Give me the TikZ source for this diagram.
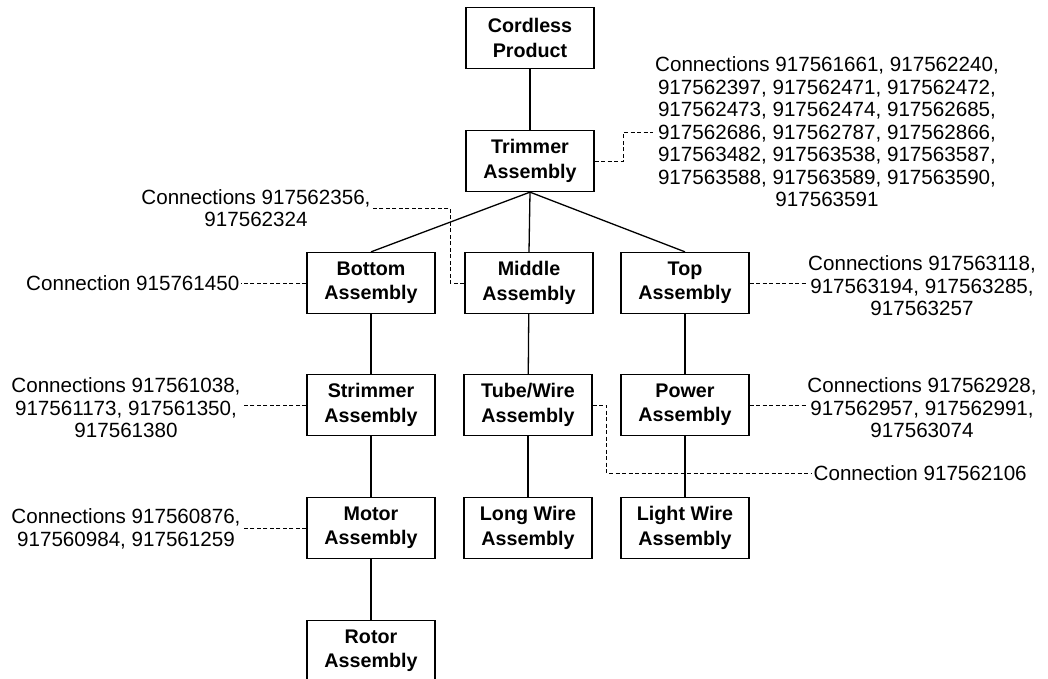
\documentclass[tikz,border=0pt]{standalone}
\usepackage{fontspec}
\setmainfont{Liberation Sans}
\usetikzlibrary{calc,positioning}

\begin{document}
\begin{tikzpicture}[x=1pt,y=-1pt,
  asm/.style={draw, line width=1.3pt, minimum width=128pt, minimum height=61pt, inner sep=0pt, align=center, font=\fontsize{19.7}{24.5}\selectfont\bfseries},
  note/.style={align=center, inner sep=1.5pt, font=\fontsize{20.6}{22.5}\selectfont},
  tree/.style={line width=1.3pt},
  conn/.style={line width=0.9pt, dash pattern=on 4pt off 2.5pt}]
\clip (0,0) rectangle (1048,678);

\node[asm] (cordless) at (530,38) {Cordless\\Product};
\node[asm] (trimmer) at (530,161) {Trimmer\\Assembly};
\node[asm] (bottom) at (371,283) {Bottom\\Assembly};
\node[asm] (middle) at (529,283) {Middle\\Assembly};
\node[asm] (top) at (685,283) {Top\\Assembly};
\node[asm] (strimmer) at (371,405) {Strimmer\\Assembly};
\node[asm] (tube) at (528,405) {Tube/Wire\\Assembly};
\node[asm] (power) at (685,405) {Power\\Assembly};
\node[asm] (motor) at (371,528) {Motor\\Assembly};
\node[asm] (longwire) at (528,528) {Long Wire\\Assembly};
\node[asm] (lightwire) at (685,528) {Light Wire\\Assembly};
\node[asm] (rotor) at (371,651) {Rotor\\Assembly};

\node[note] (ctrimmer) at (827,132) {Connections 917561661, 917562240,\\917562397, 917562471, 917562472,\\917562473, 917562474, 917562685,\\917562686, 917562787, 917562866,\\917563482, 917563538, 917563587,\\917563588, 917563589, 917563590,\\917563591};
\node[note] (cmiddle) at (256,208) {Connections 917562356,\\917562324};
\node[note, anchor=east] (cbottom) at (241,283) {Connection 915761450};
\node[note] (ctop) at (922,286) {Connections 917563118,\\917563194, 917563285,\\917563257};
\node[note] (cpower) at (922,408) {Connections 917562928,\\917562957, 917562991,\\917563074};
\node[note, anchor=west] (c2106) at (812,473) {Connection 917562106};
\node[note] (cstrimmer) at (126,408) {Connections 917561038,\\917561173, 917561350,\\917561380};
\node[note] (cmotor) at (126,529) {Connections 917560876,\\917560984, 917561259};

\draw[tree] (cordless) -- (trimmer);
\draw[tree] (trimmer.south) -- (bottom.north);
\draw[tree] (trimmer.south) -- (middle.north);
\draw[tree] (trimmer.south) -- (top.north);
\draw[tree] (bottom) -- (strimmer);
\draw[tree] (strimmer) -- (motor);
\draw[tree] (motor) -- (rotor);
\draw[tree] (middle) -- (tube);
\draw[tree] (tube) -- (longwire);
\draw[tree] (top) -- (power);
\draw[tree] (power) -- (lightwire);

\draw[conn] (trimmer.east) -- ++(29,0) |- (ctrimmer.west);
\draw[conn] (middle.west) -- ++(-14,0) |- (cmiddle.east);
\draw[conn] (bottom.west) -- (bottom.west -| cbottom.east);
\draw[conn] (top.east) -- (top.east -| ctop.west);
\draw[conn] (power.east) -- (power.east -| cpower.west);
\draw[conn] (tube.east) -- ++(14,0) |- (c2106.west);
\draw[conn] (strimmer.west) -- (strimmer.west -| cstrimmer.east);
\draw[conn] (motor.west) -- (motor.west -| cmotor.east);
\end{tikzpicture}
\end{document}
